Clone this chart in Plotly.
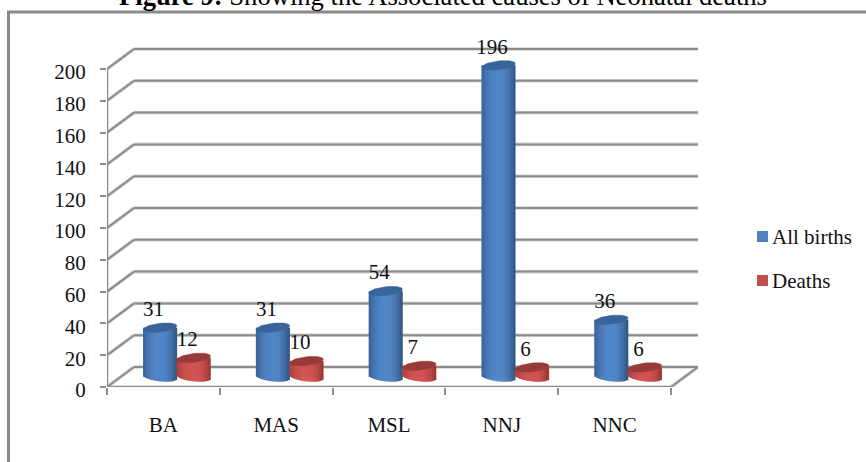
import numpy as np
import plotly.graph_objects as go

# Chart data
categories = ["BA", "MAS", "MSL", "NNJ", "NNC"]
all_births = [31, 31, 54, 196, 36]
deaths = [12, 10, 7, 6, 6]
y_ticks = list(range(0, 201, 20))
title_bold = "Figure 9:"
title_rest = " Showing the Associated causes of Neonatal deaths"

# Plot rectangle in page pixels; the top leaves headroom for the tallest value label
W, H = 866, 462
LEFT, RIGHT, TOP, BOTTOM = 107, 698, 30, 387
PX_PER_CAT = 112.8
PX_PER_UNIT = 1.59
X_MIN = -0.5
X_MAX = X_MIN + (RIGHT - LEFT) / PX_PER_CAT
Y_MAX = (BOTTOM - TOP) / PX_PER_UNIT

# Oblique projection of the chart's depth, in axis units
DEPTH_X = 27 / PX_PER_CAT
DEPTH_Y = 20 / PX_PER_UNIT
BAR_HALF = 16.8 / PX_PER_CAT
FLOOR_Y = DEPTH_Y / 2
ELLIPSE_RY = 4.4 / PX_PER_UNIT
ELLIPSE_TILT = 1.8 / PX_PER_UNIT

GRID = "#8c8c8c"
GRID_SOFT = "#d4d4d4"
FONT = "Liberation Serif"
TEXT = "#111111"
STRIPS = 17


def mix(c1, c2, t):
    return "rgb(%d,%d,%d)" % tuple(round(a + (b - a) * t) for a, b in zip(c1, c2))


def shade(u, edge_l, mid, edge_r):
    """Colour across a cylinder; u runs from -1 (left edge) to 1 (right edge)."""
    if u < 0:
        return mix(mid, edge_l, min(1, abs(u) ** 2.2))
    return mix(mid, edge_r, min(1, u ** 2.2))


SERIES = [
    dict(name="All births", values=all_births, side=-1, base="#4F81BD", cap="#386499",
         edge_l=(56, 96, 146), mid=(80, 134, 200), edge_r=(48, 84, 124), legend_y=236.5),
    dict(name="Deaths", values=deaths, side=1, base="#C0504D", cap="#983a38",
         edge_l=(170, 62, 60), mid=(210, 84, 82), edge_r=(150, 52, 50), legend_y=280.5),
]

cat_pos = np.arange(len(categories), dtype=float)
fig = go.Figure()

for s in SERIES:
    centers = cat_pos + DEPTH_X / 2 + s["side"] * BAR_HALF
    vals = np.array(s["values"], dtype=float)

    # Flat column under the shaded strips
    fig.add_trace(go.Bar(
        x=centers, y=vals, base=FLOOR_Y, width=2 * BAR_HALF * 0.96, name=s["name"],
        marker=dict(color=s["base"], line=dict(width=0)),
        showlegend=False, hoverinfo="skip",
    ))

    # Vertical strips give the round shading and the curved lower edge
    step = 2 / STRIPS
    for k in range(STRIPS):
        u = -1 + step * (k + 0.5)
        sag = ELLIPSE_RY * np.sqrt(max(0, 1 - u * u)) + ELLIPSE_TILT * u
        fig.add_trace(go.Bar(
            x=centers + u * BAR_HALF, y=vals + sag, base=FLOOR_Y - sag,
            width=BAR_HALF * step * 1.25, showlegend=False,
            marker=dict(color=shade(u, s["edge_l"], s["mid"], s["edge_r"]), line=dict(width=0)),
            hoverinfo="skip",
        ))

    # Elliptical caps
    t = np.linspace(0, 2 * np.pi, 49)
    cap_x, cap_y = [], []
    for cx, v in zip(centers, vals):
        cap_x += list(cx + BAR_HALF * np.cos(t)) + [None]
        cap_y += list(FLOOR_Y + v + ELLIPSE_RY * np.sin(t) + ELLIPSE_TILT * np.cos(t)) + [None]
    fig.add_trace(go.Scatter(
        x=cap_x, y=cap_y, mode="lines", fill="toself", fillcolor=s["cap"],
        line=dict(width=0.5, color=s["cap"]), showlegend=False, hoverinfo="skip",
    ))

# Value labels
for s in SERIES:
    centers = cat_pos + DEPTH_X / 2 + s["side"] * BAR_HALF
    vals = np.array(s["values"], dtype=float)
    fig.add_trace(go.Scatter(
        x=centers - 6.5 / PX_PER_CAT, y=vals + FLOOR_Y + 17 / PX_PER_UNIT,
        text=[str(v) for v in s["values"]], mode="text", textposition="middle center",
        textfont=dict(family=FONT, size=21, color=TEXT),
        cliponaxis=False, showlegend=False, hoverinfo="skip",
    ))


def seg(x0, y0, x1, y1, color=GRID, width=2, layer="below"):
    return dict(type="line", xref="x", yref="y", x0=x0, y0=y0, x1=x1, y1=y1,
                line=dict(color=color, width=width), layer=layer)


front_l, front_r = X_MIN, X_MIN + len(categories)
back_l, back_r = X_MIN + DEPTH_X, front_r + DEPTH_X
shapes = []
for color, width in ((GRID_SOFT, 3.6), (GRID, 2)):
    for v in y_ticks:
        shapes.append(seg(front_l, v, back_l, v + DEPTH_Y, color, width))
        shapes.append(seg(back_l, v + DEPTH_Y, back_r, v + DEPTH_Y, color, width))
    shapes.append(seg(front_l, 0, front_r, 0, color, width))
    shapes.append(seg(front_r, 0, back_r, DEPTH_Y, color, width))
    shapes.append(seg(front_l, 0, front_l, y_ticks[-1], color, width))


def px_x(p):
    return p / W


def px_y(p):
    return 1 - p / H


# Outer frame, open at the right and bottom page edges
shapes.append(dict(
    type="path", xref="paper", yref="paper", layer="below",
    path=f"M {px_x(8.5)} 0 L {px_x(8.5)} {px_y(12)} L 1 {px_y(12)}",
    line=dict(color="#8a8a8a", width=3),
))

annotations = [dict(
    xref="paper", yref="paper", x=px_x(443), y=px_y(13), xanchor="center", yanchor="bottom",
    text=f"<b>{title_bold}</b>{title_rest}", showarrow=False,
    font=dict(family=FONT, size=26.6, color="#000000"),
)]

# Legend keys and names
for s in SERIES:
    shapes.append(dict(
        type="rect", xref="paper", yref="paper", layer="above",
        x0=px_x(757), x1=px_x(768), y0=px_y(s["legend_y"] + 5.5), y1=px_y(s["legend_y"] - 5.5),
        fillcolor=s["base"], line=dict(width=0),
    ))
    annotations.append(dict(
        xref="paper", yref="paper", x=px_x(770), y=px_y(s["legend_y"] + 0.5), xanchor="left", yanchor="middle",
        text=s["name"], showarrow=False, font=dict(family=FONT, size=21, color=TEXT),
    ))

fig.update_layout(
    width=W, height=H, autosize=False,
    margin=dict(l=0, r=0, t=0, b=0),
    paper_bgcolor="white", plot_bgcolor="rgba(0,0,0,0)",
    barmode="overlay", shapes=shapes, annotations=annotations, hovermode=False,
    showlegend=False,
    font=dict(family=FONT, size=21, color=TEXT),
    xaxis=dict(
        domain=[LEFT / W, RIGHT / W], automargin=False,
        range=[X_MIN, X_MAX], showgrid=False, zeroline=False, showline=False,
        tickmode="array", tickvals=cat_pos, ticktext=categories, ticks="", ticklen=0,
        ticklabelstandoff=23, tickfont=dict(family=FONT, size=21, color=TEXT),
        minor=dict(tickmode="array", tickvals=np.arange(len(categories) + 1) + X_MIN,
                   ticks="outside", ticklen=7, tickwidth=2, tickcolor=GRID, showgrid=False),
    ),
    yaxis=dict(
        domain=[1 - BOTTOM / H, 1 - TOP / H], automargin=False,
        range=[0, Y_MAX], showgrid=False, zeroline=False, showline=False,
        tickmode="array", tickvals=y_ticks, ticks="outside", ticklen=6, tickwidth=2,
        tickcolor=GRID, ticklabelstandoff=10, ticklabelshift=3,
        tickfont=dict(family=FONT, size=21, color=TEXT),
    ),
)

fig.write_html("out.html", config={"displayModeBar": False})
